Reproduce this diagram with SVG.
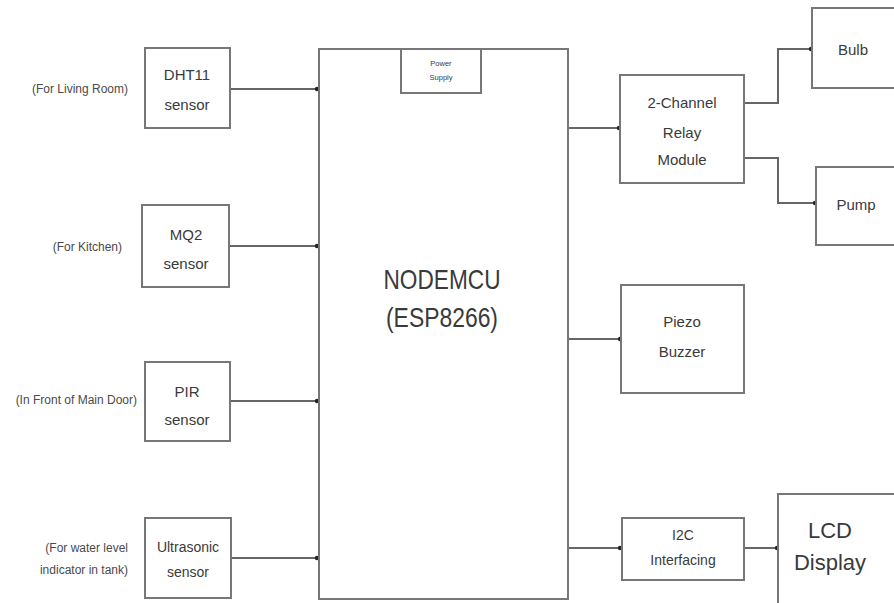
<svg xmlns="http://www.w3.org/2000/svg" width="894" height="603" viewBox="0 0 894 603">
<style>
.box{fill:#fff;stroke:#777;stroke-width:2}
.t{font-family:"Liberation Sans",Arial,sans-serif;fill:#3a3a3a;text-anchor:middle}
.s15{font-size:15px}
.s14{font-size:14px}
.big{font-size:28px}
.lcd{font-size:22px}
.tiny{font-size:7.5px}
.lbl{font-family:"Liberation Sans",Arial,sans-serif;fill:#4a4a4a;text-anchor:end;font-size:12px}
.c{fill:none;stroke:#666;stroke-width:2}
</style>
<defs>
<marker id="dot" viewBox="0 0 6 6" refX="3" refY="3" markerWidth="6" markerHeight="6" markerUnits="userSpaceOnUse">
<circle cx="3" cy="3" r="2.2" fill="#222"/>
</marker>
</defs>
<rect width="894" height="603" fill="#fff"/>
<g id="connectors">
<path class="c" d="M230 89H317" marker-end="url(#dot)"/>
<path class="c" d="M229 246H317" marker-end="url(#dot)"/>
<path class="c" d="M230 401H317" marker-end="url(#dot)"/>
<path class="c" d="M231 558H317" marker-end="url(#dot)"/>
<path class="c" d="M568 128H619" marker-end="url(#dot)"/>
<path class="c" d="M744 103H778V49H811" marker-end="url(#dot)"/>
<path class="c" d="M744 158H778V203H815" marker-end="url(#dot)"/>
<path class="c" d="M568 339H620" marker-end="url(#dot)"/>
<path class="c" d="M568 548H620" marker-end="url(#dot)"/>
<path class="c" d="M744 548H777" marker-end="url(#dot)"/>
</g>
<g id="main">
<rect class="box" x="319" y="49" width="249" height="550"/>
<text class="t big" x="442" y="289" textLength="117" lengthAdjust="spacingAndGlyphs">NODEMCU</text>
<text class="t big" x="442" y="327" textLength="112" lengthAdjust="spacingAndGlyphs">(ESP8266)</text>
</g>
<g id="power">
<rect class="box" x="401" y="49" width="80" height="44"/>
<text class="t tiny" x="441" y="66">Power</text>
<text class="t tiny" x="441" y="80">Supply</text>
</g>
<g id="dht11">
<rect class="box" x="145" y="48" width="85" height="80"/>
<text class="t s15" x="187" y="80">DHT11</text>
<text class="t s15" x="187" y="110">sensor</text>
<text class="lbl" x="128" y="93">(For Living Room)</text>
</g>
<g id="mq2">
<rect class="box" x="142" y="205" width="87" height="82"/>
<text class="t s15" x="186" y="240">MQ2</text>
<text class="t s15" x="186" y="269">sensor</text>
<text class="lbl" x="122" y="251">(For Kitchen)</text>
</g>
<g id="pir">
<rect class="box" x="145" y="362" width="85" height="79"/>
<text class="t s15" x="187" y="397">PIR</text>
<text class="t s15" x="187" y="425">sensor</text>
<text class="lbl" x="137" y="404">(In Front of Main Door)</text>
</g>
<g id="ultrasonic">
<rect class="box" x="145" y="518" width="86" height="80"/>
<text class="t s14" x="188" y="552">Ultrasonic</text>
<text class="t s14" x="188" y="577">sensor</text>
<text class="lbl" x="128" y="552">(For water level</text>
<text class="lbl" x="128" y="574">indicator in tank)</text>
</g>
<g id="relay">
<rect class="box" x="620" y="75" width="124" height="108"/>
<text class="t s15" x="682" y="108">2-Channel</text>
<text class="t s15" x="682" y="138">Relay</text>
<text class="t s15" x="682" y="165">Module</text>
</g>
<g id="bulb">
<rect class="box" x="812" y="8" width="90" height="80"/>
<text class="t s15" x="853" y="55">Bulb</text>
</g>
<g id="pump">
<rect class="box" x="816" y="167" width="90" height="78"/>
<text class="t s15" x="856" y="210">Pump</text>
</g>
<g id="piezo">
<rect class="box" x="621" y="285" width="123" height="108"/>
<text class="t s15" x="682" y="327">Piezo</text>
<text class="t s15" x="682" y="357">Buzzer</text>
</g>
<g id="i2c">
<rect class="box" x="622" y="518" width="122" height="62"/>
<text class="t s14" x="683" y="540">I2C</text>
<text class="t s14" x="683" y="565">Interfacing</text>
</g>
<g id="lcd">
<rect class="box" x="778" y="494" width="124" height="120"/>
<text class="t lcd" x="830" y="538">LCD</text>
<text class="t lcd" x="830" y="570">Display</text>
</g>
</svg>
